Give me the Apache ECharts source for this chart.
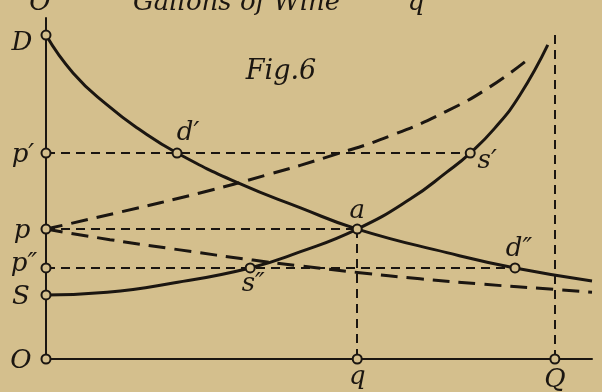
<!DOCTYPE html>
<html>
<head>
<meta charset="utf-8">
<script src="https://cdn.jsdelivr.net/npm/echarts@6/dist/echarts.min.js"></script>
<style>
  html, body { margin: 0; padding: 0; background: #d4bf8d; }
  #chart { width: 602px; height: 392px; }
</style>
</head>
<body>
<div id="chart"></div>
<script>
// Demand curve D -> D' (quantity, price)
const demandX = [0, 4.95, 11.2, 17.2, 24.0, 35.5, 46.5, 57.0, 73.4, 85.9, 100];
const demandY = [95.0, 83.9, 74.5, 67.2, 60.4, 51.4, 44.4, 38.1, 31.2, 26.7, 22.9];
// Supply curve S -> S'
const supplyX = [0, 11.2, 23.3, 37.4, 46.5, 57.0, 66.7, 73.4, 77.7, 82.2, 86.8, 91.9];
const supplyY = [18.8, 19.6, 22.3, 26.7, 31.4, 38.1, 46.9, 54.8, 60.4, 67.7, 77.4, 92.1];
// Dashed supply p -> S''
const supply2X = [0, 13.6, 28.2, 40.5, 52.6, 63.0, 73.4, 81.3, 88.6];
const supply2Y = [38.1, 43.1, 48.7, 54.0, 59.8, 65.4, 72.7, 79.8, 88.3];
// Dashed demand p -> D''
const demand2X = [0, 11.7, 24.5, 37.9, 46.5, 57.0, 68.5, 79.5, 93.2, 100];
const demand2Y = [38.1, 35.0, 32.0, 29.0, 27.3, 25.4, 23.5, 22.0, 20.4, 19.6];

// Prices on the vertical axis
const priceD = 95.0, priceP1 = 60.4, priceP = 38.1, priceP2 = 26.7, priceS = 18.8;
// Quantities on the horizontal axis
const qtyD1 = 24.0, qtyS1 = 77.7, qtyA = 57.0, qtyS2 = 37.4, qtyD2 = 85.9, qtyQ = 93.2, qtyTop = 95;

const ink = '#1b1611';
const paper = '#d4bf8d';
const serif = '"DejaVu Serif", serif';

const zip = (xs, ys) => xs.map((x, i) => [x, ys[i]]);

function lbl(text, dx, dy, size) {
  return {
    show: true, formatter: text, position: 'inside', offset: [dx, dy],
    fontFamily: serif, fontStyle: 'italic', fontSize: size || 26, color: ink,
    align: 'center', verticalAlign: 'middle'
  };
}
function pt(x, y, text, dx, dy) {
  return { value: [x, y], label: lbl(text, dx, dy) };
}
function withEndLabel(points, text, dx, dy) {
  const d = points.slice(0, -1);
  d.push({ value: points[points.length - 1], label: lbl(text, dx, dy) });
  return d;
}

const chart = echarts.init(document.getElementById('chart'), null, { renderer: 'canvas' });
chart.setOption({
  backgroundColor: paper,
  animation: false,
  grid: { left: 46, right: 10, top: 18, bottom: 33 },
  xAxis: {
    type: 'value', min: 0, max: 100,
    axisLine: { show: true, onZero: false, lineStyle: { color: ink, width: 2 } },
    axisTick: { show: false }, axisLabel: { show: false }, splitLine: { show: false }
  },
  yAxis: {
    type: 'value', min: 0, max: 100,
    axisLine: { show: true, onZero: false, lineStyle: { color: ink, width: 2 } },
    axisTick: { show: false }, axisLabel: { show: false }, splitLine: { show: false }
  },
  graphic: [
    { type: 'text', style: { text: 'O', x: 40, y: 3, font: 'italic 26px ' + serif, fill: ink, textAlign: 'center', textVerticalAlign: 'middle' } },
    { type: 'text', style: { text: 'Gallons of Wine', x: 133, y: 3, font: 'italic 26px ' + serif, fill: ink, textAlign: 'left', textVerticalAlign: 'middle' } },
    { type: 'text', style: { text: 'q', x: 416, y: 3, font: 'italic 26px ' + serif, fill: ink, textAlign: 'center', textVerticalAlign: 'middle' } },
    { type: 'text', style: { text: 'Fig.6', x: 281, y: 72, font: 'italic 27px ' + serif, fill: ink, textAlign: 'center', textVerticalAlign: 'middle' } }
  ],
  series: [
    {
      name: 'demand', type: 'line', smooth: 0.5, symbol: 'none',
      lineStyle: { color: ink, width: 3 },
      data: withEndLabel(zip(demandX, demandY), 'D′', -5, -22),
      z: 3
    },
    {
      name: 'supply', type: 'line', smooth: 0.5, symbol: 'none',
      lineStyle: { color: ink, width: 3 },
      data: withEndLabel(zip(supplyX, supplyY), 'S″S′', -21, -5),
      z: 3
    },
    {
      name: 'supply2', type: 'line', smooth: 0.5, symbol: 'none',
      lineStyle: { color: ink, width: 3, type: [17, 9] },
      data: zip(supply2X, supply2Y), z: 3
    },
    {
      name: 'demand2', type: 'line', smooth: 0.5, symbol: 'none',
      lineStyle: { color: ink, width: 3, type: [17, 9] },
      data: withEndLabel(zip(demand2X, demand2Y), 'D″', -5, 18),
      z: 3
    },
    {
      name: 'guides', type: 'line', data: [], symbol: 'none',
      markLine: {
        silent: true, symbol: 'none', label: { show: false },
        lineStyle: { color: ink, width: 2, type: [9, 6] },
        data: [
          [{ coord: [0, priceP1] }, { coord: [qtyS1, priceP1] }],
          [{ coord: [0, priceP] }, { coord: [qtyA, priceP] }],
          [{ coord: [0, priceP2] }, { coord: [qtyD2, priceP2] }],
          [{ coord: [qtyA, priceP] }, { coord: [qtyA, 0] }],
          [{ coord: [qtyQ, qtyTop] }, { coord: [qtyQ, 0] }]
        ]
      },
      z: 2
    },
    {
      name: 'points', type: 'scatter', symbol: 'circle', symbolSize: 9,
      itemStyle: { color: paper, borderColor: ink, borderWidth: 2, opacity: 1 },
      data: [
        pt(0, priceD, 'D', -24, 8),
        pt(0, priceP1, 'p′', -23, 2),
        pt(0, priceP, 'p', -24, 2),
        pt(0, priceP2, 'p″', -22, -4),
        pt(0, priceS, 'S', -25, 2),
        pt(0, 0, 'O', -25, 2),
        pt(qtyA, 0, 'q', 0, 18),
        pt(qtyQ, 0, 'Q', 0, 21),
        pt(qtyD1, priceP1, 'd′', 11, -20),
        pt(qtyS1, priceP1, 's′', 17, 8),
        pt(qtyA, priceP, 'a', 0, -18),
        pt(qtyS2, priceP2, 's″', 3, 16),
        pt(qtyD2, priceP2, 'd″', 4, -19)
      ],
      z: 5
    }
  ]
});
</script>
</body>
</html>
